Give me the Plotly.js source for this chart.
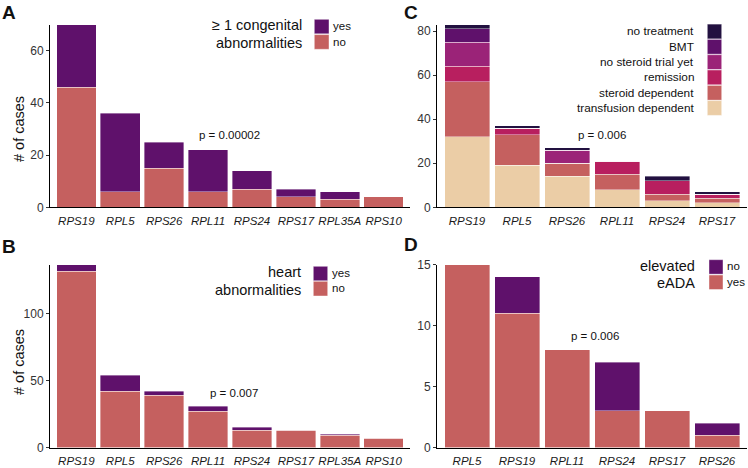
<!DOCTYPE html>
<html><head><meta charset="utf-8">
<script src="https://cdn.plot.ly/plotly-3.0.1.min.js"></script>
<style>body{margin:0;background:#fff}#plot{width:748px;height:468px}</style>
</head><body><div id="plot"></div>
<script>
// ---- data ----
const genesA = ['RPS19','RPL5','RPS26','RPL11','RPS24','RPS17','RPL35A','RPS10'];
const congNo  = [46, 6, 15, 6, 7, 4, 3, 4];
const congYes = [24, 30, 10, 16, 7, 3, 3, 0];

const genesB = ['RPS19','RPL5','RPS26','RPL11','RPS24','RPS17','RPL35A','RPS10'];
const heartNo  = [132, 42, 39, 27, 13, 13, 9, 7];
const heartYes = [5, 12, 3, 4, 2, 0, 1, 0];

const genesC = ['RPS19','RPL5','RPS26','RPL11','RPS24','RPS17'];
const transfusionDep = [32, 19, 14, 8, 3, 2];
const steroidDep     = [25, 14, 6, 7, 3, 2];
const remission      = [7, 3, 0, 6, 6, 2];
const noSteroidTrial = [11, 0, 6, 0, 0, 0];
const bmt            = [6, 0, 0, 0, 0, 0];
const noTreatment    = [2, 1, 1, 0, 2, 1];
const treatNames = ['transfusion dependent','steroid dependent','remission','no steroid trial yet','BMT','no treatment'];

const genesD = ['RPL5','RPS19','RPL11','RPS24','RPS17','RPS26'];
const eadaYes = [15, 11, 8, 3, 3, 1];
const eadaNo  = [0, 3, 0, 4, 0, 1];

const pA = 'p = 0.00002', pB = 'p = 0.007', pC = 'p = 0.006', pD = 'p = 0.006';

// ---- style ----
const PURPLE = '#5F116B', SALMON = '#C5605F';
const treatColors = ['#EBCDA6','#C5605F','#B81F5F','#9B2378','#5F116B','#221140'];
const FONT = 'Liberation Sans, Arial, Helvetica, sans-serif';
const W = 748, H = 468;
const px = x => x / W, py = y => 1 - y / H;
const outline = {color: 'rgba(255,255,255,0.55)', width: 0.7};

function bar(x, y, color, name, xa, ya) {
  return {type: 'bar', x: x, y: y, name: name, xaxis: xa, yaxis: ya,
    marker: {color: color, line: outline}, showlegend: false, hoverinfo: 'x+y+name'};
}

const data = [
  bar(genesA, congNo, SALMON, 'no', 'x', 'y'),
  bar(genesA, congYes, PURPLE, 'yes', 'x', 'y'),
  bar(genesB, heartNo, SALMON, 'no', 'x3', 'y3'),
  bar(genesB, heartYes, PURPLE, 'yes', 'x3', 'y3'),
];
[transfusionDep, steroidDep, remission, noSteroidTrial, bmt, noTreatment].forEach((v, i) =>
  data.push(bar(genesC, v, treatColors[i], treatNames[i], 'x2', 'y2')));
data.push(bar(genesD, eadaYes, SALMON, 'yes', 'x4', 'y4'));
data.push(bar(genesD, eadaNo, PURPLE, 'no', 'x4', 'y4'));

const xBase = {type: 'category', showline: true, linecolor: '#000', linewidth: 1,
  ticks: 'outside', ticklen: 3, tickcolor: 'rgba(0,0,0,0)', showgrid: false, zeroline: false,
  tickfont: {family: FONT, size: 11.5, color: '#1a1a1a', style: 'italic'}, fixedrange: true};
const yBase = {showline: true, linecolor: '#000', linewidth: 1, ticks: 'outside', ticklen: 3,
  tickcolor: '#333', showgrid: false, zeroline: false,
  tickfont: {family: FONT, size: 12, color: '#333'}, fixedrange: true};

const domL = [px(50), px(410)], domR = [px(437), px(747)];
const domT = [py(207.3), py(24.5)], domB = [py(447.5), py(264.5)];

const shapes = [], annotations = [];
function swatch(x0, y0, x1, y1, color) {
  shapes.push({type: 'rect', xref: 'paper', yref: 'paper', x0: px(x0), x1: px(x1), y0: py(y1), y1: py(y0),
    fillcolor: color, line: {color: 'rgba(255,255,255,0.6)', width: 0.7}});
}
function text(t, x, y, size, anchor, opts) {
  annotations.push(Object.assign({text: t, xref: 'paper', yref: 'paper', x: px(x), y: py(y),
    xanchor: anchor, yanchor: 'middle', showarrow: false,
    font: {family: FONT, size: size, color: '#111'}}, opts || {}));
}

// panel letters
text('<b>A</b>', 8.5, 12, 19, 'center');
text('<b>B</b>', 8.5, 246.5, 19, 'center');
text('<b>C</b>', 410.5, 12, 19, 'center');
text('<b>D</b>', 410.5, 244, 19, 'center');
// y-axis titles
text('# of cases', 19, 129, 14.5, 'center', {textangle: -90});
text('# of cases', 19, 362, 14.5, 'center', {textangle: -90});
// p values
text(pA, 229.5, 135, 11.5, 'center');
text(pB, 233.5, 393, 11.5, 'center');
text(pC, 601.5, 134.5, 11.5, 'center');
text(pD, 594.5, 335.5, 11.5, 'center');

// legend A
text('≥ 1 congenital', 304, 25, 14.5, 'right');
text('abnormalities', 304, 42.5, 14.5, 'right');
swatch(314.3, 19.3, 329, 33.8, PURPLE); swatch(314.3, 34.6, 329, 49.3, SALMON);
text('yes', 331, 25.5, 11.5, 'left'); text('no', 331, 41.5, 11.5, 'left');
// legend B
text('heart', 302.7, 272.3, 14.5, 'right');
text('abnormalities', 302.7, 289.7, 14.5, 'right');
swatch(313.3, 266.3, 327.7, 280.8, PURPLE); swatch(313.3, 281.3, 327.7, 296, SALMON);
text('yes', 330, 272.5, 11.5, 'left'); text('no', 330, 288, 11.5, 'left');
// legend C
const legCy = [31.5, 46.8, 62.1, 77.4, 92.8, 108];
const legCorder = [5, 4, 3, 2, 1, 0];
legCorder.forEach((k, i) => {
  swatch(707.3, legCy[i] - 7.4, 721.7, legCy[i] + 7.4, treatColors[k]);
  text(treatNames[k], 696, legCy[i], 11.8, 'right');
});
// legend D
text('elevated', 697.3, 265.7, 14.5, 'right');
text('eADA', 697.3, 283.3, 14.5, 'right');
swatch(709, 259.7, 723, 274.2, PURPLE); swatch(709, 275, 723, 289.5, SALMON);
text('no', 724.7, 266, 11.5, 'left'); text('yes', 724.7, 281.5, 11.5, 'left');

const layout = {
  width: W, height: H, margin: {l: 0, r: 0, t: 0, b: 0},
  paper_bgcolor: '#fff', plot_bgcolor: '#fff',
  barmode: 'stack', bargap: 0.1, showlegend: false,
  font: {family: FONT},
  xaxis:  Object.assign({}, xBase, {domain: domL, anchor: 'y',  range: [-0.6, 7.6]}),
  yaxis:  Object.assign({}, yBase, {domain: domT, anchor: 'x',  range: [0, 70],  tickvals: [0, 20, 40, 60]}),
  xaxis2: Object.assign({}, xBase, {domain: domR, anchor: 'y2', range: [-0.6, 5.6]}),
  yaxis2: Object.assign({}, yBase, {domain: domT, anchor: 'x2', range: [0, 83],  tickvals: [0, 20, 40, 60, 80]}),
  xaxis3: Object.assign({}, xBase, {domain: domL, anchor: 'y3', range: [-0.6, 7.6]}),
  yaxis3: Object.assign({}, yBase, {domain: domB, anchor: 'x3', range: [0, 137], tickvals: [0, 50, 100]}),
  xaxis4: Object.assign({}, xBase, {domain: domR, anchor: 'y4', range: [-0.6, 5.6]}),
  yaxis4: Object.assign({}, yBase, {domain: domB, anchor: 'x4', range: [0, 15],  tickvals: [0, 5, 10, 15]}),
  shapes: shapes, annotations: annotations
};
Plotly.newPlot('plot', data, layout, {displayModeBar: false, staticPlot: true});
</script>
</body></html>
